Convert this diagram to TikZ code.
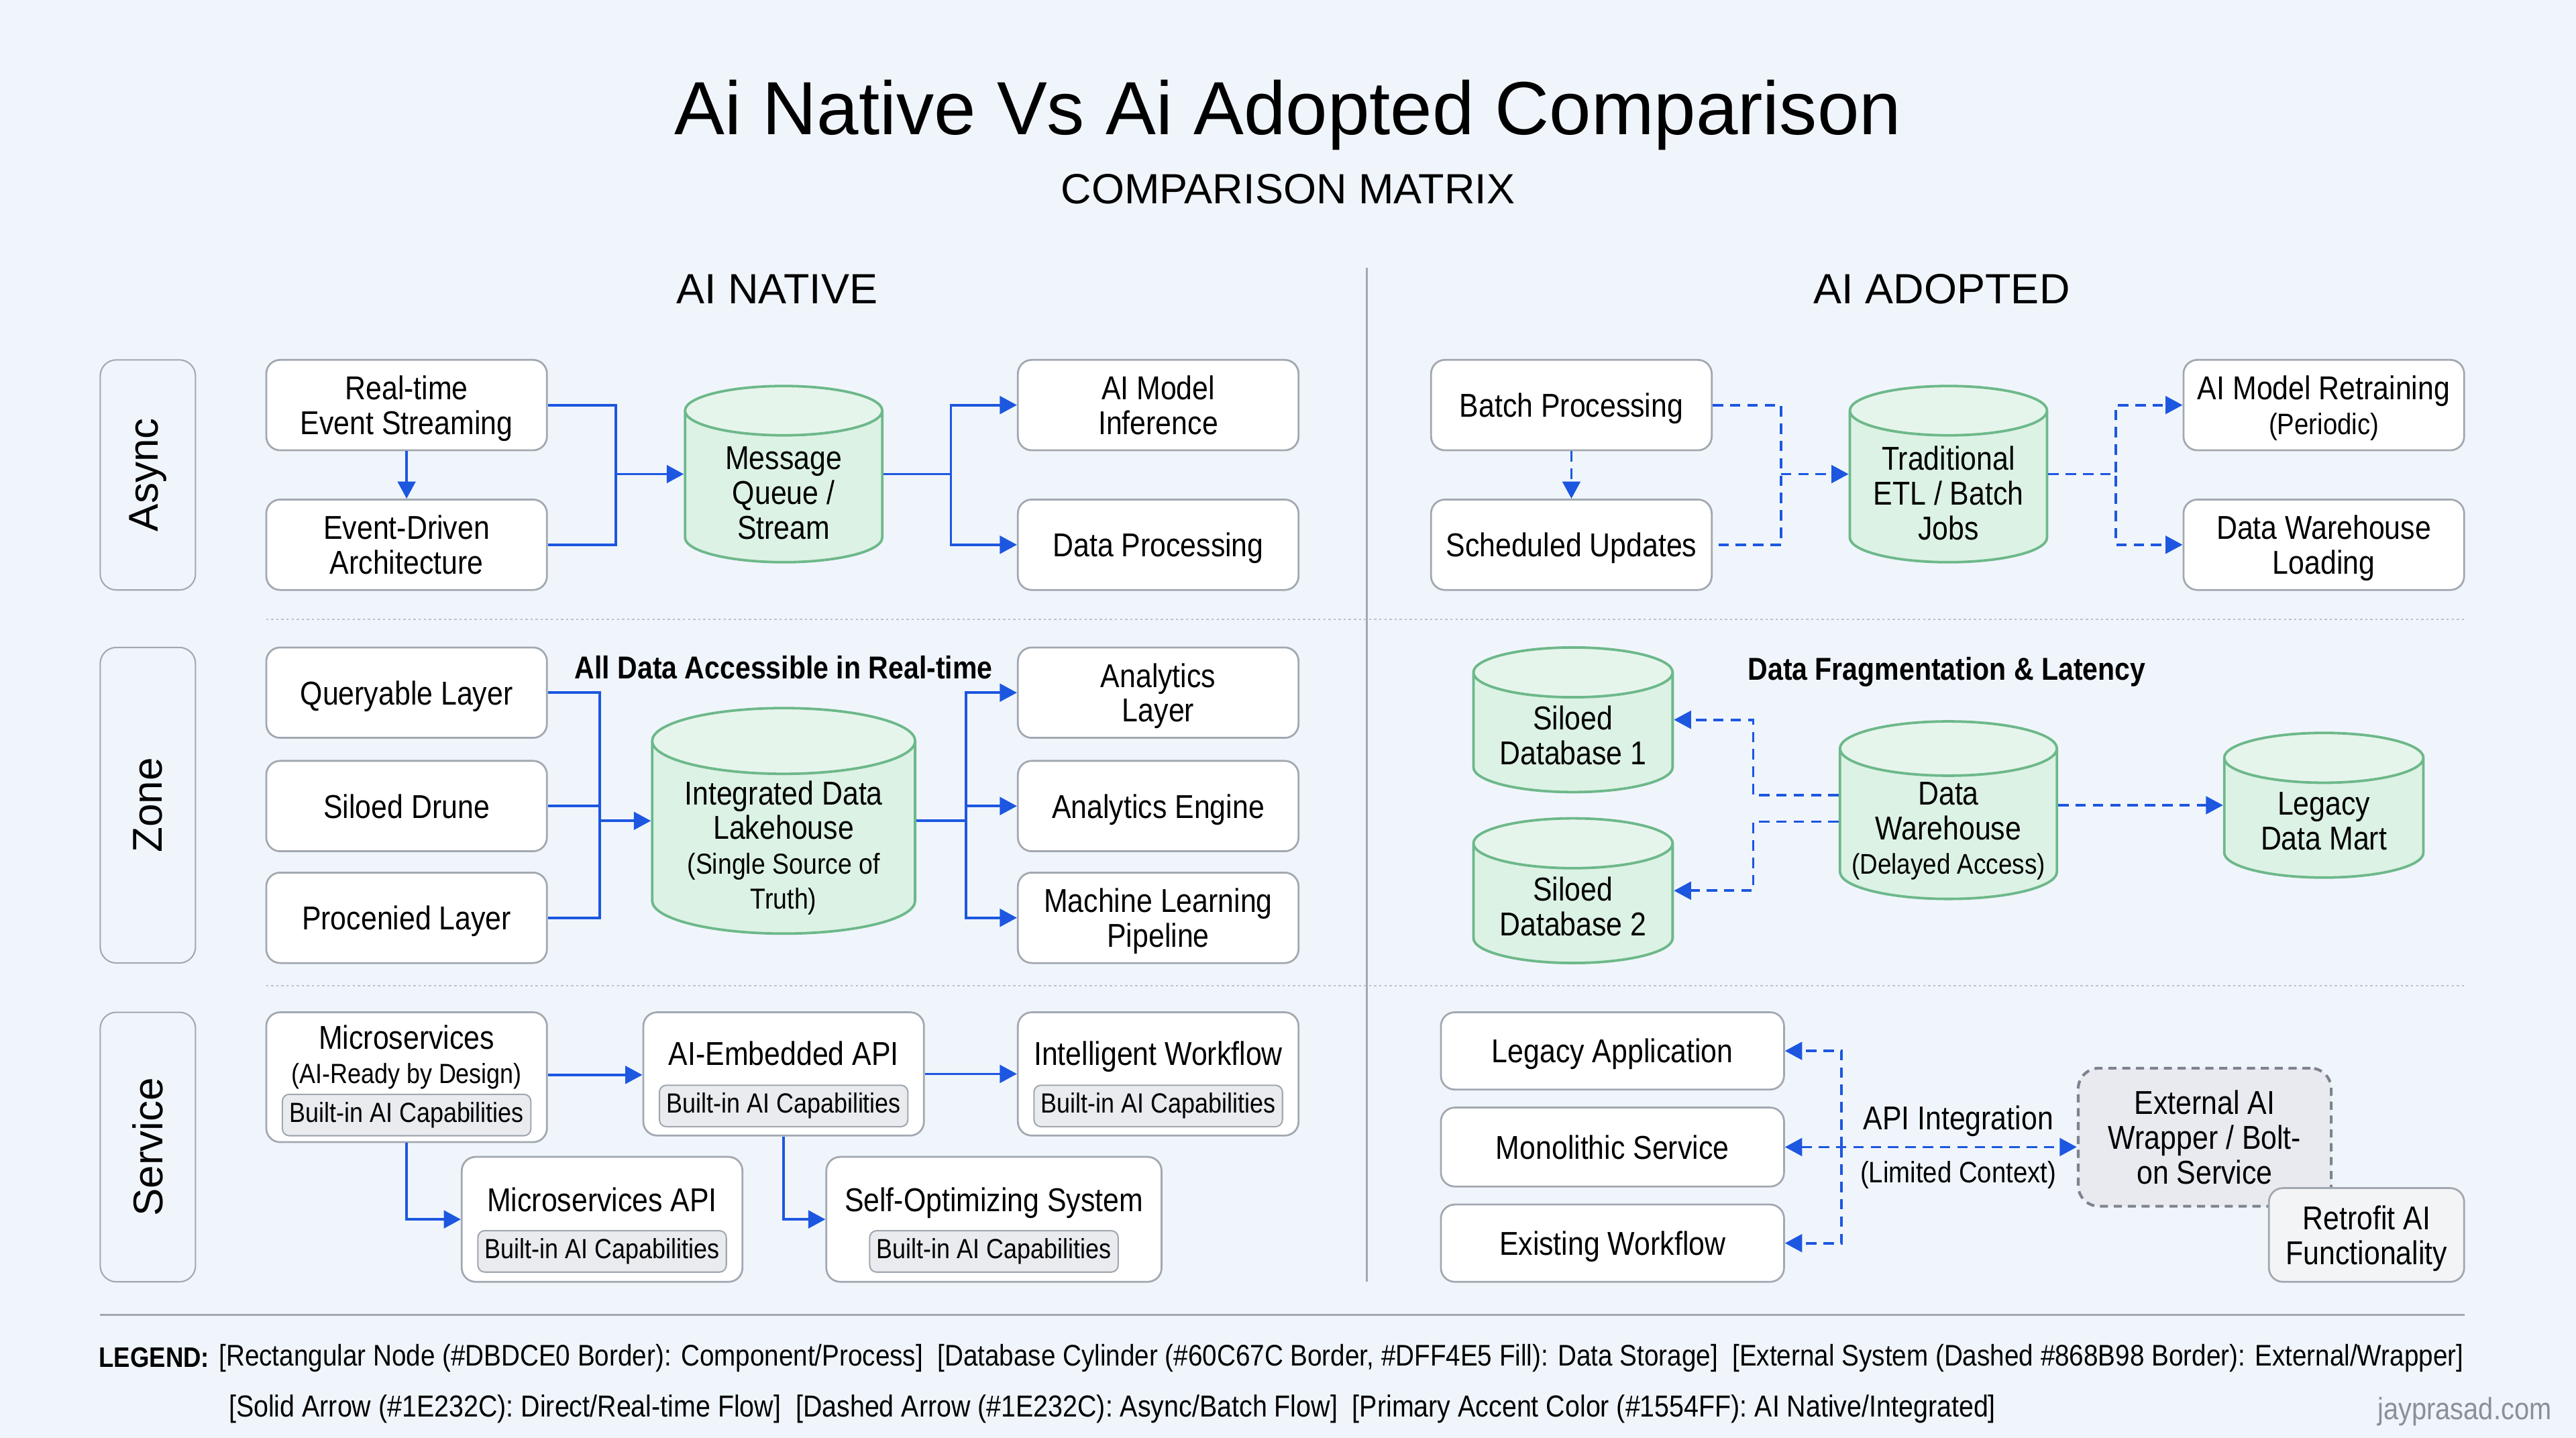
\documentclass[tikz,border=0pt]{standalone}
\usepackage{fontspec}
\setmainfont[FakeStretch=0.87]{Liberation Sans}
\newfontfamily\widefont{Liberation Sans}
\usetikzlibrary{arrows.meta,shapes.geometric}

\definecolor{pagebg}{HTML}{F0F5FC}
\definecolor{boxline}{HTML}{A2A8B0}
\definecolor{chipfill}{HTML}{E9EBEF}
\definecolor{cylline}{HTML}{6DB88A}
\definecolor{cylfill}{HTML}{DCF2E5}
\definecolor{cyltop}{HTML}{E6F5EC}
\definecolor{flowblue}{HTML}{1D57E0}
\definecolor{extline}{HTML}{7D828E}
\definecolor{extfill}{HTML}{E8EAEF}
\definecolor{creditgrey}{HTML}{8A9098}

\tikzset{
    lane/.style={draw=boxline, fill=pagebg, line width=0.6pt, rounded corners=7pt, minimum width=1.45cm, font=\widefont\fontsize{18}{20}\selectfont},
    box/.style={draw=boxline, fill=white, line width=0.8pt, rounded corners=6pt, align=center, inner sep=0pt, text depth=0pt, minimum width=4.27cm, minimum height=1.375cm, font=\fontsize{14.3}{15}\selectfont},
    chip/.style={draw=boxline, fill=chipfill, line width=0.6pt, rounded corners=3pt, inner sep=0pt, minimum width=3.78cm, minimum height=0.63cm, font=\fontsize{12}{13}\selectfont},
    dbcyl/.style={cylinder, anchor=shape center, shape border rotate=90, shape aspect=0.25, draw=cylline, line width=1.1pt, cylinder uses custom fill, cylinder body fill=cylfill, cylinder end fill=cyltop, inner sep=0pt},
    txt/.style={align=center, inner sep=0pt, text depth=0pt, font=\fontsize{14.3}{15}\selectfont},
    flow/.style={draw=flowblue, line width=1.1pt, -{Triangle[length=2.6mm,width=2.7mm]}},
    flowplain/.style={draw=flowblue, line width=1.1pt},
    dflow/.style={flow, dash pattern=on 4.5pt off 3pt},
    dflowplain/.style={flowplain, dash pattern=on 4.5pt off 3pt},
    rule/.style={draw=boxline, line width=0.8pt},
    dotrule/.style={draw=boxline!70, line width=0.6pt, dash pattern=on 1pt off 1.2pt},
    legendtxt/.style={anchor=west, inner sep=0pt, font=\fontsize{12.9}{14}\selectfont}
}

\begin{document}
\begin{tikzpicture}[x=0.025cm, y=-0.025cm]

    % page
    \fill[pagebg] (0,0) rectangle (1568,875);
    \useasboundingbox (0,0) rectangle (1568,875);

    % titles
    \node[inner sep=0pt, font=\widefont\fontsize{32.6}{36}\selectfont] (title) at (784,70) {Ai Native Vs Ai Adopted Comparison};
    \node[inner sep=0pt, font=\widefont\fontsize{18.3}{22}\selectfont] (subtitle) at (784,115) {COMPARISON MATRIX};
    \node[inner sep=0pt, font=\widefont\fontsize{18.3}{22}\selectfont] (nativehead) at (473,176) {AI NATIVE};
    \node[inner sep=0pt, font=\widefont\fontsize{18.3}{22}\selectfont] (adoptedhead) at (1182,176) {AI ADOPTED};

    % separators
    \draw[rule] (832,163) -- (832,780);
    \draw[dotrule] (162,377) -- (1500,377);
    \draw[dotrule] (162,600) -- (1500,600);
    \draw[rule] (61,800) -- (1500,800);

    % lanes
    \node[lane, minimum height=3.5cm] (async) at (90,289) {\rotatebox{90}{Async}};
    \node[lane, minimum height=4.8cm] (zone) at (90,490) {\rotatebox{90}{Zone}};
    \node[lane, minimum height=4.1cm] (service) at (90,698) {\rotatebox{90}{Service}};

    % async, native
    \node[box] (stream) at (247.5,246.5) {Real-time\\Event Streaming};
    \node[box] (driven) at (247.5,331.5) {Event-Driven\\Architecture};
    \node[dbcyl, text width=3cm, minimum height=2.68cm] (queue) at (477,288.5) {};
    \node[txt] (queuetext) at (477,300) {Message\\Queue /\\Stream};
    \node[box] (inference) at (705,246.5) {AI Model\\Inference};
    \node[box] (dataproc) at (705,331.5) {Data Processing};
    \coordinate (queuein) at (queue.shape center -| queue.west);
    \coordinate (queueout) at (queue.shape center -| queue.east);
    \coordinate (streamjoin) at (375,288.5);

    \draw[flow] (stream) -- (driven);
    \draw[flowplain] (stream.east) -| (streamjoin) |- (driven.east);
    \draw[flow] (streamjoin) -- (queuein);
    \draw[flow] (queueout) -- ++(41,0) |- (inference.west);
    \draw[flow] (queueout) -- ++(41,0) |- (dataproc.west);

    % async, adopted
    \node[box] (batch) at (956.5,246.5) {Batch Processing};
    \node[box] (scheduled) at (956.5,331.5) {Scheduled Updates};
    \node[dbcyl, text width=3cm, minimum height=2.68cm] (etl) at (1186,288.5) {};
    \node[txt] (etltext) at (1186,300) {Traditional\\ETL / Batch\\Jobs};
    \node[box] (retrain) at (1414.5,246.5) {AI Model Retraining\\{\fontsize{12.8}{13}\selectfont (Periodic)}};
    \node[box] (dwload) at (1414.5,331.5) {Data Warehouse\\Loading};
    \coordinate (etlin) at (etl.shape center -| etl.west);
    \coordinate (etlout) at (etl.shape center -| etl.east);
    \coordinate (batchjoin) at (1084,288.5);

    \draw[dflow] (batch) -- (scheduled);
    \draw[dflowplain] (batch.east) -| (batchjoin) |- (scheduled.east);
    \draw[dflow] (batchjoin) -- (etlin);
    \draw[dflow] (etlout) -- ++(41,0) |- (retrain.west);
    \draw[dflow] (etlout) -- ++(41,0) |- (dwload.west);

    % zone, native
    \node[box] (queryable) at (247.5,421.5) {Queryable Layer};
    \node[box] (drune) at (247.5,490.5) {Siloed Drune};
    \node[box] (procenied) at (247.5,558.5) {Procenied Layer};
    \node[dbcyl, text width=4cm, minimum height=3.43cm] (lake) at (477,499.5) {};
    \node[txt] (laketext) at (477,514) {Integrated Data\\Lakehouse\\{\fontsize{12.5}{13}\selectfont (Single Source of}\\{\fontsize{12.5}{13}\selectfont Truth)}};
    \node[box] (analytics) at (705,421.5) {Analytics\\Layer};
    \node[box] (engine) at (705,490.5) {Analytics Engine};
    \node[box] (pipeline) at (705,558.5) {Machine Learning\\Pipeline};
    \node[txt, font=\bfseries\fontsize{13.7}{15}\selectfont] (realtime) at (477,406) {All Data Accessible in Real-time};
    \coordinate (lakein) at (lake.shape center -| lake.west);
    \coordinate (lakeout) at (lake.shape center -| lake.east);
    \coordinate (zonejoin) at (365,499.5);
    \coordinate (zonesplit) at (588,499.5);

    \draw[flowplain] (queryable.east) -| (zonejoin) |- (procenied.east);
    \draw[flowplain] (drune.east) -- (drune.east -| zonejoin);
    \draw[flow] (zonejoin) -- (lakein);
    \draw[flow] (lakeout) -- (zonesplit) |- (analytics.west);
    \draw[flow] (zonesplit |- engine.west) -- (engine.west);
    \draw[flow] (zonesplit) |- (pipeline.west);

    % zone, adopted
    \node[dbcyl, text width=3.03cm, minimum height=2.2cm] (silo1) at (957.5,438) {};
    \node[txt] (silo1text) at (957.5,447.5) {Siloed\\Database 1};
    \node[dbcyl, text width=3.03cm, minimum height=2.2cm] (silo2) at (957.5,542) {};
    \node[txt] (silo2text) at (957.5,551.5) {Siloed\\Database 2};
    \node[dbcyl, text width=3.3cm, minimum height=2.7cm] (warehouse) at (1186,493) {};
    \node[txt] (warehousetext) at (1186,504) {Data\\Warehouse\\{\fontsize{12.3}{14}\selectfont (Delayed Access)}};
    \node[dbcyl, text width=3.03cm, minimum height=2.2cm] (mart) at (1414.5,490) {};
    \node[txt] (marttext) at (1414.5,499.5) {Legacy\\Data Mart};
    \node[txt, font=\bfseries\fontsize{13.7}{15}\selectfont] (fragment) at (1185,407) {Data Fragmentation \& Latency};
    \coordinate (silo1in) at (silo1.shape center -| silo1.east);
    \coordinate (silo2in) at (silo2.shape center -| silo2.east);
    \coordinate (martin) at (mart.shape center -| mart.west);
    \coordinate (whwest) at (warehouse.shape center -| warehouse.west);

    \draw[dflow] ([yshift=6.4pt]whwest) -- ++(-52,0) |- (silo1in);
    \draw[dflow] ([yshift=-5pt]whwest) -- ++(-52,0) |- (silo2in);
    \draw[dflow] (martin -| warehouse.east) -- (martin);

    % service, native
    \node[box, minimum height=1.975cm] (micro) at (247.5,655.5) {};
    \node[txt] (microtext) at (247.5,641.5) {Microservices\\{\fontsize{12}{14}\selectfont (AI-Ready by Design)}};
    \node[chip] (microchip) at (247.5,678.5) {Built-in AI Capabilities};
    \node[box, minimum height=1.875cm] (embedded) at (477,653.5) {};
    \node[txt] (embeddedtext) at (477,641) {AI-Embedded API};
    \node[chip] (embeddedchip) at (477,673) {Built-in AI Capabilities};
    \node[box, minimum height=1.875cm] (workflow) at (705,653.5) {};
    \node[txt] (workflowtext) at (705,641) {Intelligent Workflow};
    \node[chip] (workflowchip) at (705,673) {Built-in AI Capabilities};
    \node[box, minimum height=1.9cm] (microapi) at (366.5,742) {};
    \node[txt] (microapitext) at (366.5,730) {Microservices API};
    \node[chip] (microapichip) at (366.5,761.5) {Built-in AI Capabilities};
    \node[box, minimum width=5.1cm, minimum height=1.9cm] (selfopt) at (605,742) {};
    \node[txt] (selfopttext) at (605,730) {Self-Optimizing System};
    \node[chip] (selfoptchip) at (605,761.5) {Built-in AI Capabilities};

    \draw[flow] ([yshift=1pt]micro.east) -- ([yshift=1pt]micro.east -| embedded.west);
    \draw[flow] (embedded.east) -- (workflow.west);
    \draw[flow] (micro.south) |- (microapi.west);
    \draw[flow] (embedded.south) |- (selfopt.west);

    % service, adopted
    \node[box, minimum width=5.22cm, minimum height=1.175cm] (legacyapp) at (981.5,639.5) {Legacy Application};
    \node[box, minimum width=5.22cm, minimum height=1.2cm] (monolith) at (981.5,698) {Monolithic Service};
    \node[box, minimum width=5.22cm, minimum height=1.175cm] (existing) at (981.5,756.5) {Existing Workflow};
    \node[box, draw=extline, fill=extfill, line width=1.2pt, dash pattern=on 3.5pt off 2.5pt, rounded corners=9pt, minimum width=3.85cm, minimum height=2.1cm] (wrapper) at (1342,692) {External AI\\Wrapper / Bolt-\\on Service};
    \node[box, fill=chipfill!55!white, minimum width=2.97cm, minimum height=1.425cm] (retrofit) at (1440.5,751.5) {Retrofit AI\\Functionality};
    \coordinate (apihub) at (1121,698);
    \node[txt] (apilabel) at (1192,680) {API Integration};
    \node[txt, font=\fontsize{12.8}{13}\selectfont] (contextlabel) at (1192,713) {(Limited Context)};

    \draw[dflow] (apihub) |- (legacyapp.east);
    \draw[dflow] (apihub) |- (existing.east);
    \draw[dflow, {Triangle[length=2.6mm,width=2.7mm]}-{Triangle[length=2.6mm,width=2.7mm]}] (monolith.east) -- (monolith.east -| wrapper.west);

    % legend
    \node[legendtxt, font=\bfseries\fontsize{12.2}{14}\selectfont] (legendhead) at (60,826) {LEGEND:};
    \node[legendtxt] (legend1) at (133,826.5) {[Rectangular Node (\#DBDCE0 Border): Component/Process]\ \ [Database Cylinder (\#60C67C Border, \#DFF4E5 Fill): Data Storage]\ \ [External System (Dashed \#868B98 Border): External/Wrapper]};
    \node[legendtxt, font=\fontsize{13.15}{14}\selectfont] (legend2) at (139,857.5) {[Solid Arrow (\#1E232C): Direct/Real-time Flow]\ \ [Dashed Arrow (\#1E232C): Async/Batch Flow]\ \ [Primary Accent Color (\#1554FF): AI Native/Integrated]};
    \node[legendtxt, text=creditgrey, font=\fontsize{13.3}{14}\selectfont] (credit) at (1447,859) {jayprasad.com};

\end{tikzpicture}
\end{document}
